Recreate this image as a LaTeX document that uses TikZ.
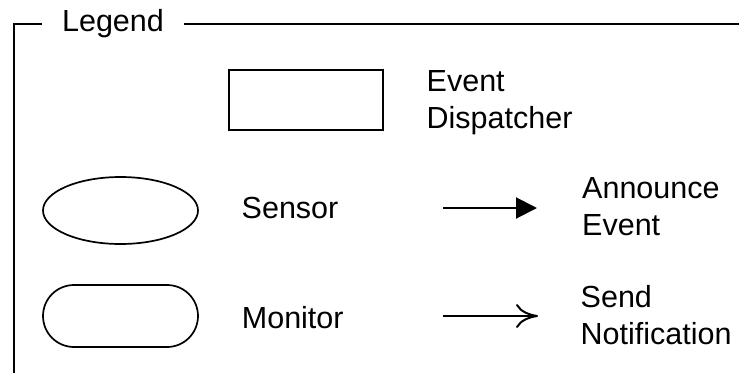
\documentclass[tikz,border=0pt]{standalone}
\usepackage{fontspec}
\setmainfont{Liberation Sans}
\usetikzlibrary{shapes.geometric,shapes.misc,arrows.meta}
\tikzset{eshape/.style={draw,line width=1.7pt,inner sep=0pt}}
\tikzset{elabel/.style={anchor=west,align=left,inner sep=0pt,font=\fontsize{30.5}{37}\selectfont}}
\tikzset{eline/.style={line width=2pt}}

\begin{document}
\begin{tikzpicture}[x=1pt,y=-1pt]
            \useasboundingbox (0,0) rectangle (739,373);
            % draw the legend frame
            \node[elabel,anchor=center,inner xsep=20pt] (legend) at (113,24) {Legend};
            \draw[eline] (legend.west) -- (13.5,24) -- (13.5,373);
            \draw[eline] (legend.east) -- (739,24);
            % draw the shapes
            \node[eshape,minimum width=154pt,minimum height=60pt] (dispatcher) at (306,100) {};
            \node[eshape,ellipse,minimum width=155pt,minimum height=67pt] (sensor) at (120.5,210.5) {};
            \node[eshape,rounded rectangle,minimum width=155pt,minimum height=62pt] (monitor) at (120.5,316) {};
            % the labels
            \node[elabel] (dispatchertext) at (426.5,102.3) {Event\\Dispatcher};
            \node[elabel] (sensortext) at (241.5,208) {Sensor};
            \node[elabel] (monitortext) at (241.7,318) {Monitor};
            \node[elabel] (announcetext) at (582,206.5) {Announce\\Event};
            \node[elabel] (sendtext) at (580.5,315.5) {Send\\Notification};
            % draw the arrows
            \coordinate (announcefrom) at (443,208);
            \coordinate (announceto) at (537,208);
            \coordinate (sendfrom) at (443,316);
            \coordinate (sendto) at (538,316);
            \draw[eline,-{Triangle[length=21pt,width=21pt]}] (announcefrom) -- (announceto);
            \draw[eline,-{Computer Modern Rightarrow[length=22pt,width=24pt]}] (sendfrom) -- (sendto);
        \end{tikzpicture}
\end{document}
